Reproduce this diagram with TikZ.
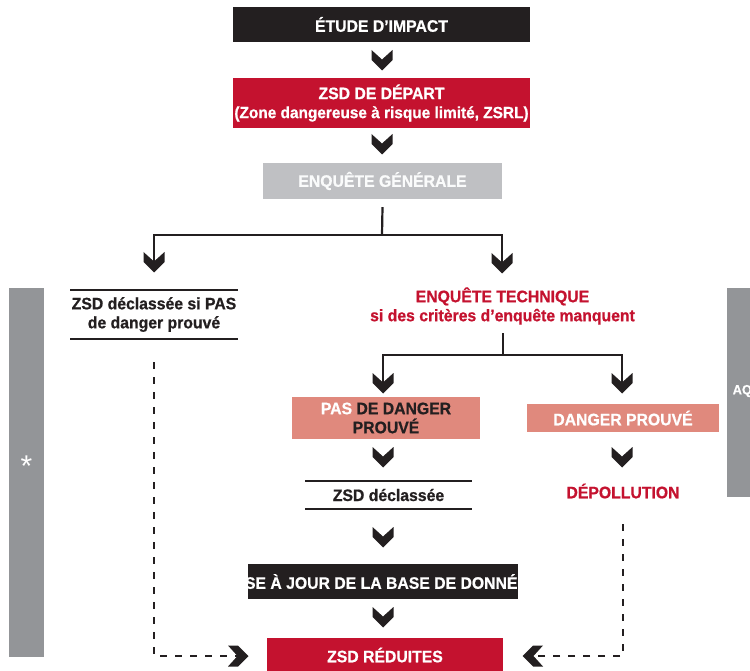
\documentclass[tikz,border=0pt]{standalone}
\usepackage{fontspec}
\setmainfont{Liberation Sans}
\newfontfamily\headfont{Liberation Sans Bold}[FakeStretch=0.95, FakeBold=0.8]
\definecolor{ink}{HTML}{231F20}
\definecolor{crimson}{HTML}{C4122F}
\definecolor{mist}{HTML}{BFC0C3}
\definecolor{slate}{HTML}{939598}
\definecolor{salmon}{HTML}{E0897D}
\tikzset{
  lbl/.style={inner sep=0pt, align=center, font=\headfont\fontsize{16.6}{19}\selectfont},
  box/.style={lbl, text=white},
  darkbox/.style={box, fill=ink},
  redbox/.style={box, fill=crimson},
  greybox/.style={box, fill=mist, text=white!93!mist},
  pinkbox/.style={box, fill=salmon},
  redtext/.style={lbl, text=crimson},
  plain/.style={lbl, text=ink},
  rule/.style={draw=ink, line width=2.2pt},
  conn/.style={draw=ink, line width=2.2pt},
  dashconn/.style={draw=ink, line width=2pt, dash pattern=on 7pt off 8pt},
  sidebar/.style={fill=slate},
  chevdown/.pic={\fill[ink] (-10.5,-10) -- (0,-0.5) -- (10.5,-10) -- (10.5,0) -- (0,10.5) -- (-10.5,0) -- cycle;},
  chevright/.pic={\fill[ink] (-10,-10.5) -- (-0.5,0) -- (-10,10.5) -- (0,10.5) -- (10.5,0) -- (0,-10.5) -- cycle;},
  chevleft/.pic={\fill[ink] (10,-10.5) -- (0.5,0) -- (10,10.5) -- (0,10.5) -- (-10.5,0) -- (0,-10.5) -- cycle;},
}
\begin{document}
\begin{tikzpicture}[x=1pt,y=-1pt]
\useasboundingbox (0,0) rectangle (750,671);
\clip (0,0) rectangle (750,671);

% side bars
\fill[sidebar] (9,288) rectangle (44,657);
\node[inner sep=0pt, text=white, font=\fontsize{30}{30}\selectfont] (star) at (26.5,466) {*};
\fill[sidebar] (727,288) rectangle (760,497);
\node[lbl, text=white, anchor=west, font=\headfont\fontsize{13.5}{15}\selectfont] (aq) at (732.5,391) {AQ};

% main column
\node[darkbox, minimum width=297pt, minimum height=35pt] (etude) at (381.5,24.5) {ÉTUDE D’IMPACT};
\node[redbox, minimum width=297pt, minimum height=50pt] (depart) at (381.5,103) {ZSD DE DÉPART\\{\fontsize{16.2}{19}\selectfont(Zone dangereuse à risque limité, ZSRL)}};
\node[greybox, minimum width=239pt, minimum height=36pt] (gen) at (382.5,181) {ENQUÊTE GÉNÉRALE};

% left branch
\node[plain, minimum width=167pt, minimum height=49pt] (decl) at (154,314.5) {ZSD déclassée si PAS\\de danger prouvé};
\draw[rule] (decl.north west) -- (decl.north east);
\draw[rule] (decl.south west) -- (decl.south east);

% right branch
\node[redtext] (tech) at (502.5,306) {ENQUÊTE TECHNIQUE\\si des critères d’enquête manquent};
\node[pinkbox, minimum width=188pt, minimum height=42pt] (pas) at (386,418) {PAS \textcolor{ink}{DE DANGER}\\\textcolor{ink}{PROUVÉ}};
\node[pinkbox, minimum width=192pt, minimum height=28pt] (prouve) at (623,418) {DANGER PROUVÉ};
\node[plain, minimum width=166pt, minimum height=28pt] (decl2) at (388.5,495) {ZSD déclassée};
\draw[rule] (decl2.north west) -- (decl2.north east);
\draw[rule] (decl2.south west) -- (decl2.south east);
\node[redtext] (depol) at (623,491) {DÉPOLLUTION};

% database update and result
\node[darkbox, minimum width=270pt, minimum height=35pt] (maj) at (383,581.5) {};
\begin{scope}
  \clip (maj.south west) rectangle (maj.north east);
  \node[box] (majtext) at (maj.center) {MISE À JOUR DE LA BASE DE DONNÉES};
\end{scope}
\node[redbox, minimum width=236pt, minimum height=34pt] (red) at (385,655) {ZSD RÉDUITES};

% connector points
\coordinate (bus1) at (382,235);
\coordinate (chL) at (154,262);
\coordinate (chR) at (502,263);
\coordinate (bus2) at (503,355);
\coordinate (chA) at (383,383);
\coordinate (chB) at (622,383);
\coordinate (arrR) at (238,656);
\coordinate (arrL) at (533,656);

% connectors
\draw[conn] ([yshift=-8pt]gen.south) -- (bus1);
\draw[conn] (chL) |- (bus1) -| (chR);
\draw[conn] (503,333) -- (bus2);
\draw[conn] (chA) |- (bus2) -| (chB);
\draw[dashconn] ([yshift=-23pt]decl.south) |- (arrR);
\draw[dashconn] (623,524) |- (arrL);

% chevrons
\pic at (382,60) {chevdown};
\pic at (382,144) {chevdown};
\pic at (chL) {chevdown};
\pic at (chR) {chevdown};
\pic at (chA) {chevdown};
\pic at (chB) {chevdown};
\pic at (383,457) {chevdown};
\pic at (622,457) {chevdown};
\pic at (383,537) {chevdown};
\pic at (383,617) {chevdown};
\pic at (arrR) {chevright};
\pic at (arrL) {chevleft};
\end{tikzpicture}
\end{document}
